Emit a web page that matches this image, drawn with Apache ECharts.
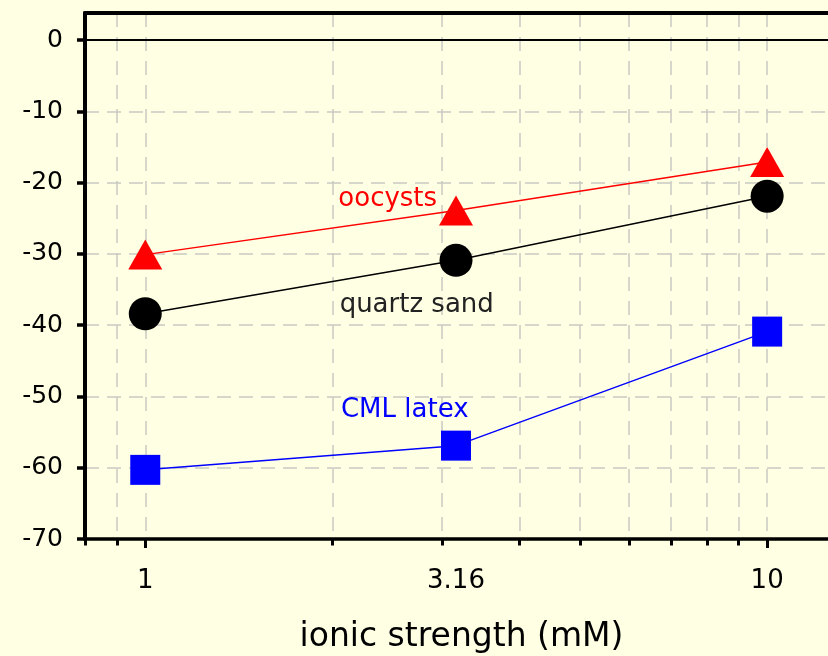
<!DOCTYPE html>
<html>
<head>
<meta charset="utf-8">
<script src="https://cdn.jsdelivr.net/npm/echarts@6/dist/echarts.min.js"></script>
<style>
html,body{margin:0;padding:0;background:#FFFFE3;}
#c{width:828px;height:656px;}
</style>
</head>
<body>
<div id="c"></div>
<script>
// ---- data ----
var ionicStrength = [1, 3.16, 10];
var oocysts = [-30.1, -23.9, -17.1];
var quartzSand = [-38.4, -30.9, -21.9];
var cmlLatex = [-60.3, -56.9, -40.9];
var xLabelValues = [1, 3.16, 10];
var xLabelTexts = ['1', '3.16', '10'];
var xMajorTicks = [1, 10];
var xMinorTicks = [0.8, 0.9, 2, 3, 4, 5, 6, 7, 8, 9];
var yTicks = [-70, -60, -50, -40, -30, -20, -10, 0];
var seriesNames = ['oocysts', 'quartz sand', 'CML latex'];
var annotationAnchors = [[2.04, -22.4], [2.05, -37.2], [2.06, -51.9]];

var L = Math.log10;
function pairs(xs, ys) { return xs.map(function (x, i) { return [L(x), ys[i]]; }); }
var FONT = 'DejaVu Sans';
var gridColor = '#c9c9c4';

var xMin = L(0.8), xMax = L(13);

function xLabelFmt(v) {
  for (var i = 0; i < xLabelValues.length; i++) {
    if (Math.abs(L(xLabelValues[i]) - v) < 1e-6) return xLabelTexts[i];
  }
  return '';
}

function annot(i, color) {
  return {
    symbol: 'circle', symbolSize: 1,
    itemStyle: { color: 'rgba(0,0,0,0)' },
    label: { show: true, position: 'right', distance: 0, color: color,
             fontFamily: FONT, fontSize: 26, formatter: seriesNames[i] },
    data: [{ coord: [L(annotationAnchors[i][0]), annotationAnchors[i][1]] }]
  };
}

var chart = echarts.init(document.getElementById('c'), null, { renderer: 'canvas' });
chart.setOption({
  backgroundColor: '#FFFFE3',
  animation: false,
  grid: { left: 85, right: -10, top: 13, bottom: 117, containLabel: false, outerBoundsMode: 'none' },
  xAxis: [
    { // main bottom axis: major ticks + labels + major gridlines
      type: 'value', min: xMin, max: xMax, position: 'bottom',
      axisLine: { show: true, onZero: false, lineStyle: { color: '#000', width: 3.5 } },
      axisTick: { show: true, inside: false, length: 9, customValues: xMajorTicks.map(L),
                  lineStyle: { color: '#000', width: 3 } },
      axisLabel: { show: true, customValues: xLabelValues.map(L), formatter: xLabelFmt,
                   margin: 29, color: '#000', fontFamily: FONT, fontSize: 26 },
      splitLine: { show: true, lineStyle: { color: gridColor, width: 1.5, type: [14, 10] } },
      name: 'ionic strength (mM)', nameLocation: 'middle', nameGap: 82,
      nameTextStyle: { color: '#000', fontFamily: FONT, fontSize: 33 }
    },
    { // minor ticks + minor gridlines
      type: 'value', min: xMin, max: xMax, position: 'bottom', gridIndex: 0,
      axisLine: { show: false, onZero: false },
      axisTick: { show: true, inside: false, length: 6.5, customValues: xMinorTicks.map(L),
                  lineStyle: { color: '#000', width: 3 } },
      axisLabel: { show: false },
      splitLine: { show: true, lineStyle: { color: gridColor, width: 1.5, type: [14, 10] } }
    },
    { // top border
      type: 'value', min: xMin, max: xMax, position: 'top', gridIndex: 0,
      axisLine: { show: true, onZero: false, lineStyle: { color: '#000', width: 4 } },
      axisTick: { show: false }, axisLabel: { show: false }, splitLine: { show: false }
    }
  ],
  yAxis: {
    type: 'value', min: -70, max: 3.8, position: 'left',
    axisLine: { show: true, onZero: false, lineStyle: { color: '#000', width: 4 } },
    axisTick: { show: true, inside: false, length: 8, customValues: yTicks,
                lineStyle: { color: '#000', width: 3.5 } },
    axisLabel: { show: true, customValues: yTicks, margin: 22, color: '#000',
                 fontFamily: FONT, fontSize: 25 },
    splitLine: { show: true, lineStyle: { color: gridColor, width: 1.5, type: [14, 8] } }
  },
  series: [
    {
      name: seriesNames[2], type: 'line', xAxisIndex: 0,
      data: pairs(ionicStrength, cmlLatex),
      symbol: 'rect', symbolSize: 30,
      lineStyle: { color: '#0000FF', width: 1.5 },
      itemStyle: { color: '#0000FF' },
      markPoint: annot(2, '#0000FF'), z: 3
    },
    {
      name: seriesNames[1], type: 'line', xAxisIndex: 0,
      data: pairs(ionicStrength, quartzSand),
      symbol: 'circle', symbolSize: 33,
      lineStyle: { color: '#000', width: 1.5 },
      itemStyle: { color: '#000' },
      markPoint: annot(1, '#222'),
      markLine: {
        silent: true, symbol: 'none', label: { show: false },
        lineStyle: { color: '#000', width: 2, type: 'solid' },
        data: [{ yAxis: 0 }]
      }, z: 4
    },
    {
      name: seriesNames[0], type: 'line', xAxisIndex: 0,
      data: pairs(ionicStrength, oocysts),
      symbol: 'triangle', symbolSize: [34, 30],
      lineStyle: { color: '#FF0000', width: 1.5 },
      itemStyle: { color: '#FF0000' },
      markPoint: annot(0, '#FF0000'), z: 5
    }
  ]
});
</script>
</body>
</html>
